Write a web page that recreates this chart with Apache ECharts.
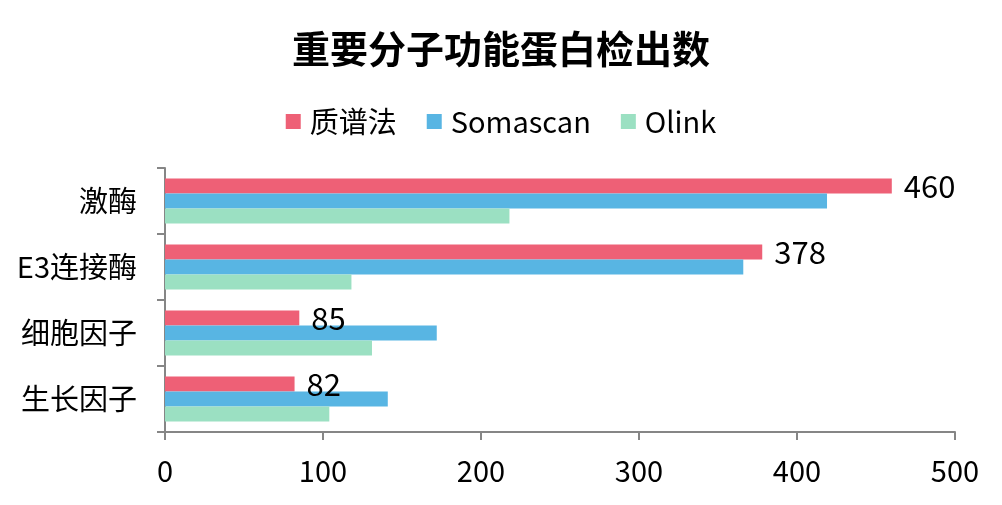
<!DOCTYPE html>
<html>
<head>
<meta charset="utf-8">
<script src="https://cdn.jsdelivr.net/npm/echarts@6/dist/echarts.min.js"></script>
<style>html,body{margin:0;padding:0;background:#fff;}#c{width:1002px;height:505px;}</style>
</head>
<body>
<div id="c"></div>
<script>
const categories = ['生长因子', '细胞因子', 'E3连接酶', '激酶'];
const massSpec = [82, 85, 378, 460];
const somascan = [141, 172, 366, 419];
const olink = [104, 131, 118, 218];
const xTicks = [0, 100, 200, 300, 400, 500];

const font = '"Noto Sans CJK SC", "Noto Sans", sans-serif';
const chart = echarts.init(document.getElementById('c'));
chart.setOption({
  backgroundColor: '#fff',
  animation: false,
  title: {
    text: '重要分子功能蛋白检出数',
    left: 'center', top: 25,
    textStyle: { fontFamily: font, fontSize: 38, fontWeight: 'bold', color: '#000' }
  },
  legend: {
    data: ['质谱法', 'Somascan', 'Olink'],
    top: 102, left: 'center',
    itemWidth: 15, itemHeight: 15, itemGap: 30,
    icon: 'rect',
    textStyle: { fontFamily: font, fontSize: 29, color: '#000', padding: [0, 0, 0, 4] }
  },
  grid: { left: 165, right: 47, top: 168, bottom: 73, containLabel: false },
  xAxis: {
    type: 'value', min: 0, max: 500, interval: 100,
    axisLine: { show: true, lineStyle: { color: '#868686', width: 2 } },
    axisTick: { show: true, length: 8, lineStyle: { color: '#868686', width: 2 } },
    splitLine: { show: false },
    axisLabel: { fontFamily: font, fontSize: 29, color: '#000', margin: 24,
      formatter: v => xTicks.includes(v) ? String(v) : '' }
  },
  yAxis: {
    type: 'category', data: categories,
    axisLine: { show: true, lineStyle: { color: '#868686', width: 2 } },
    axisTick: { show: true, length: 8, lineStyle: { color: '#868686', width: 2 } },
    axisLabel: { fontFamily: font, fontSize: 29, color: '#000', margin: 28 }
  },
  series: [
    { name: '质谱法', type: 'bar', data: massSpec, itemStyle: { color: '#EE6076' }, barGap: '0%', barCategoryGap: '32%',
      label: { show: true, position: 'right', distance: 12, fontFamily: font, fontSize: 31, color: '#000' } },
    { name: 'Somascan', type: 'bar', data: somascan, itemStyle: { color: '#58B5E3' }, barGap: '0%', barCategoryGap: '32%' },
    { name: 'Olink', type: 'bar', data: olink, itemStyle: { color: '#9BE0C2' }, barGap: '0%', barCategoryGap: '32%' }
  ]
});
</script>
</body>
</html>
